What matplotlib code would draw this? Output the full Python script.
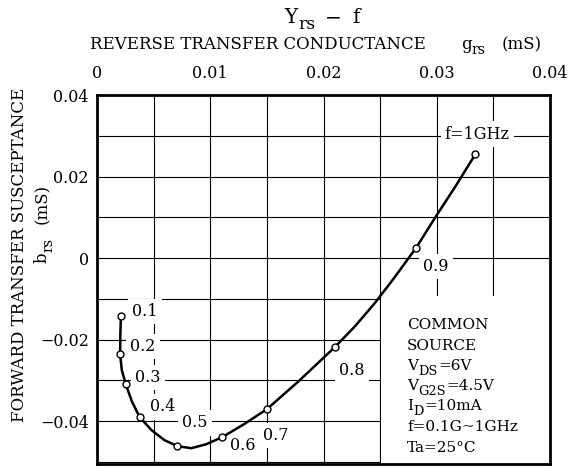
import numpy as np
import matplotlib
matplotlib.use("Agg")
import matplotlib.pyplot as plt
from matplotlib.patches import Rectangle
from matplotlib.transforms import IdentityTransform

plt.rcParams['font.family'] = ['DejaVu Serif']

# measured points (g_rs, b_rs) in mS, f = 0.1 ... 1 GHz
FREQ_LABELS = ["0.1", "0.2", "0.3", "0.4", "0.5", "0.6", "0.7", "0.8", "0.9", "f=1GHz"]
G_RS = [0.00211, 0.00204, 0.00254, 0.00377, 0.00708, 0.01103, 0.01504, 0.02103, 0.02818, 0.03340]
B_RS = [-0.01416, -0.02356, -0.03099, -0.03894, -0.04606, -0.04400, -0.03713, -0.02177, 0.00253, 0.02552]

# curve
CURVE_G = [0.00211, 0.00206, 0.00204, 0.00219, 0.00254, 0.00307, 0.00377, 0.00482, 0.00596,
           0.00711, 0.00833, 0.00965, 0.01105, 0.01298, 0.01500, 0.01781, 0.02103, 0.02280,
           0.02450, 0.02620, 0.02818, 0.02985, 0.03167, 0.03342]
CURVE_B = [-0.01423, -0.01890, -0.02356, -0.02748, -0.03092, -0.03509, -0.03902, -0.04221, -0.04466,
           -0.04613, -0.04663, -0.04564, -0.04393, -0.04074, -0.03706, -0.03018, -0.02177, -0.01666,
           -0.01114, -0.00501, 0.00253, 0.00990, 0.01767, 0.02552]

# label offsets from the markers (pixels)
LABEL_OFFSETS = [(24, 4), (23, 8), (22, 7), (23, 10), (18, 23), (21, -8), (8, -26), (17, -24), (20, -19), (2, 20)]

X_TICKS = [0, 0.01, 0.02, 0.03, 0.04]
X_TICK_LABELS = ["0", "0.01", "0.02", "0.03", "0.04"]
Y_TICKS = [0.04, 0.02, 0, -0.02, -0.04]
Y_TICK_LABELS = ["0.04", "0.02", "0", "\u22120.02", "\u22120.04"]

# (text, subscript?) pieces, numbers are gaps in pixels
CONDITIONS = [
    [("COMMON", 0)],
    [("SOURCE", 0)],
    [("V", 0), ("DS", 1), 1, ("=6V", 0)],
    [("V", 0), ("G2S", 1), 1, ("=4.5V", 0)],
    [("I", 0), ("D", 1), 1, ("=10mA", 0)],
    [("f=0.1G~1GHz", 0)],
    [("Ta=25\u00b0C", 0)],
]
COND_BASELINES = [329, 350, 370, 390, 410, 431, 452]

W, H = 569, 468
fig = plt.figure(figsize=(W / 100, H / 100), dpi=100)
R = fig.canvas.get_renderer()
SUB = 0.85


def text_width(s, size):
    t = fig.text(0, 0, s, fontsize=size)
    w = t.get_window_extent(R).width
    t.remove()
    return w


def draw_pieces(x, y, pieces, size, rot=0, ha="left", drop=0.42):
    # x, y: start of baseline in image pixels (from top left)
    items = []
    for p in pieces:
        if isinstance(p, (int, float)):
            items.append((None, 0, p))
        else:
            s, sub = p
            fs = size * SUB if sub else size
            items.append((s, sub, text_width(s, fs)))
    total = sum(it[2] for it in items)
    pos = -total / 2 if ha == "center" else 0
    dx, dy = (0, 1) if rot == 90 else (1, 0)
    ddx, ddy = (1, 0) if rot == 90 else (0, -1)
    d = drop * size * 100 / 72 * 0.73
    for s, sub, w in items:
        if s is not None:
            off = d if sub else 0
            px = x + dx * pos + ddx * off
            py = (H - y) + dy * pos + ddy * off
            fig.text(px, py, s, fontsize=size * SUB if sub else size, transform=IdentityTransform(),
                     rotation=rot, rotation_mode="anchor", ha="left", va="baseline")
        pos += w


ax = fig.add_axes([97 / W, 4 / H, 453 / W, 369 / H])

ax.set_xlim(0, 0.04)
ax.set_ylim(-0.0505, 0.04)
ax.set_xticks(np.arange(0, 0.0401, 0.005), minor=True)
ax.set_yticks(np.arange(-0.05, 0.0401, 0.01), minor=True)
ax.set_xticks(X_TICKS)
ax.set_xticklabels(X_TICK_LABELS, fontsize=11.5)
ax.set_yticks(Y_TICKS)
ax.set_yticklabels(Y_TICK_LABELS, fontsize=11.5)
ax.xaxis.tick_top()
ax.tick_params(which="both", length=0)
ax.tick_params(axis="x", pad=9)
ax.tick_params(axis="y", pad=6)
ax.grid(which="both", color="black", linewidth=0.8)
ax.set_axisbelow(True)
for s in ax.spines.values():
    s.set_linewidth(2)

# white area behind the conditions text
ax.add_patch(Rectangle((0.0251, -0.0505), 0.0149, 0.0411, facecolor="white", edgecolor="none", zorder=1.5))
for pieces, yb in zip(CONDITIONS, COND_BASELINES):
    draw_pieces(407, yb, pieces, 11)

ax.plot(CURVE_G, CURVE_B, color="black", linewidth=1.8, zorder=4)
ax.plot(G_RS, B_RS, "o", markersize=5, markerfacecolor="white", markeredgecolor="black",
        markeredgewidth=1, zorder=5)

for lab, gx, by, off in zip(FREQ_LABELS, G_RS, B_RS, LABEL_OFFSETS):
    ax.annotate(lab, (gx, by), xytext=off, textcoords="offset pixels", ha="center", va="center",
                fontsize=11.5, zorder=3,
                bbox=dict(facecolor="white", edgecolor="none", pad=3))

# titles
draw_pieces(322, 23, [("Y", 0), ("rs", 1), 10, ("\u2212", 0), 10, ("f", 0)], 14.5, ha="center")
draw_pieces(90, 49, [("REVERSE TRANSFER CONDUCTANCE", 0)], 12)
draw_pieces(461, 49, [("g", 0), ("rs", 1)], 12)
draw_pieces(502, 49, [("(mS)", 0)], 12)

# y axis title (rotated)
draw_pieces(24, 422, [("FORWARD TRANSFER SUSCEPTANCE", 0)], 12, rot=90)
draw_pieces(47, 263, [("b", 0), ("rs", 1), 14, ("(mS)", 0)], 12, rot=90)

fig.savefig("out.png", dpi=100)
